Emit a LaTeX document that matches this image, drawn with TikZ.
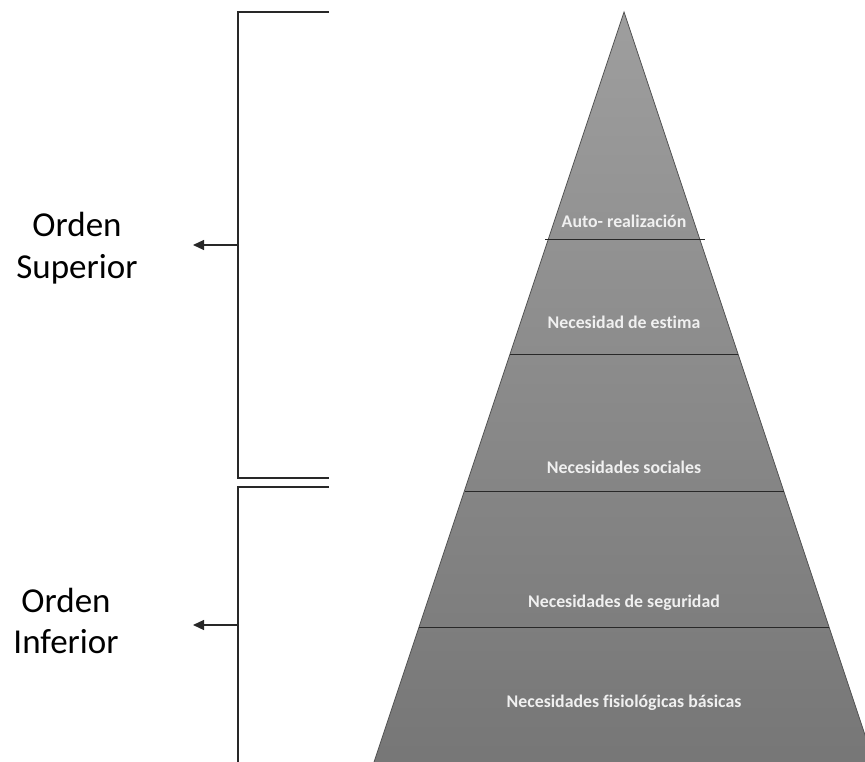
\documentclass[tikz,border=0pt]{standalone}
\usepackage{fontspec}
\setmainfont{Carlito}[Ligatures={NoCommon}]
\usetikzlibrary{arrows.meta}
\definecolor{pyrtop}{RGB}{158,158,158}
\definecolor{pyrbot}{RGB}{118,118,118}
\definecolor{lineg}{RGB}{40,40,40}
\definecolor{labelw}{RGB}{240,240,240}
\tikzset{
  bracket/.style={draw=lineg, line width=1.2pt},
  sidearrow/.style={draw=lineg, line width=1.2pt, -{Triangle[length=11pt,width=10pt]}},
  levelline/.style={draw=lineg, line width=1pt},
  levellabel/.style={text=labelw, anchor=base, font=\bfseries\fontsize{17.8}{20}\selectfont, inner sep=0pt},
  sidelabel/.style={text=black, anchor=base, align=center, font=\fontsize{35}{41}\selectfont, inner sep=0pt}
}
\begin{document}
\begin{tikzpicture}[x=1pt,y=-1pt]
\useasboundingbox (0,0) rectangle (865,762);
\clip (0,0) rectangle (865,762);
% pyramid
\coordinate (apex) at (624,12);
\coordinate (bl) at (370,774);
\coordinate (br) at (878,774);
\shade[top color=pyrtop, bottom color=pyrbot, draw=lineg!80, line width=0.8pt] (apex) -- (br) -- (bl) -- cycle;
% level lines
\coordinate (l1a) at (545,240); \coordinate (l1b) at (705,240);
\coordinate (l2a) at (510,354); \coordinate (l2b) at (738,354);
\coordinate (l3a) at (465,491); \coordinate (l3b) at (784,491);
\coordinate (l4a) at (419,627); \coordinate (l4b) at (829,627);
\draw[levelline] (l1a) -- (l1b);
\draw[levelline] (l2a) -- (l2b);
\draw[levelline] (l3a) -- (l3b);
\draw[levelline] (l4a) -- (l4b);
% level labels
\node[levellabel] (n1) at (624,228) {Auto- realización};
\node[levellabel] (n2) at (624,328) {Necesidad de estima};
\node[levellabel] (n3) at (624,473) {Necesidades sociales};
\node[levellabel] (n4) at (624,607) {Necesidades de seguridad};
\node[levellabel] (n5) at (624,707) {Necesidades fisiológicas básicas};
% brackets
\coordinate (t1) at (329,12); \coordinate (t2) at (238,12);
\coordinate (t3) at (238,478); \coordinate (t4) at (329,478);
\draw[bracket] (t1) -- (t2) -- (t3) -- (t4);
\coordinate (b1) at (329,487); \coordinate (b2) at (238,487);
\coordinate (b3) at (238,770);
\draw[bracket] (b1) -- (b2) -- (b3);
\coordinate (as) at (238,245); \coordinate (ae) at (193,245);
\draw[sidearrow] (as) -- (ae);
\coordinate (bs) at (238,625); \coordinate (be) at (193,625);
\draw[sidearrow] (bs) -- (be);
% side labels
\node[sidelabel] (sup) at (77,278) {Orden\\Superior};
\node[sidelabel] (inf) at (66,653) {Orden\\Inferior};
\end{tikzpicture}
\end{document}
